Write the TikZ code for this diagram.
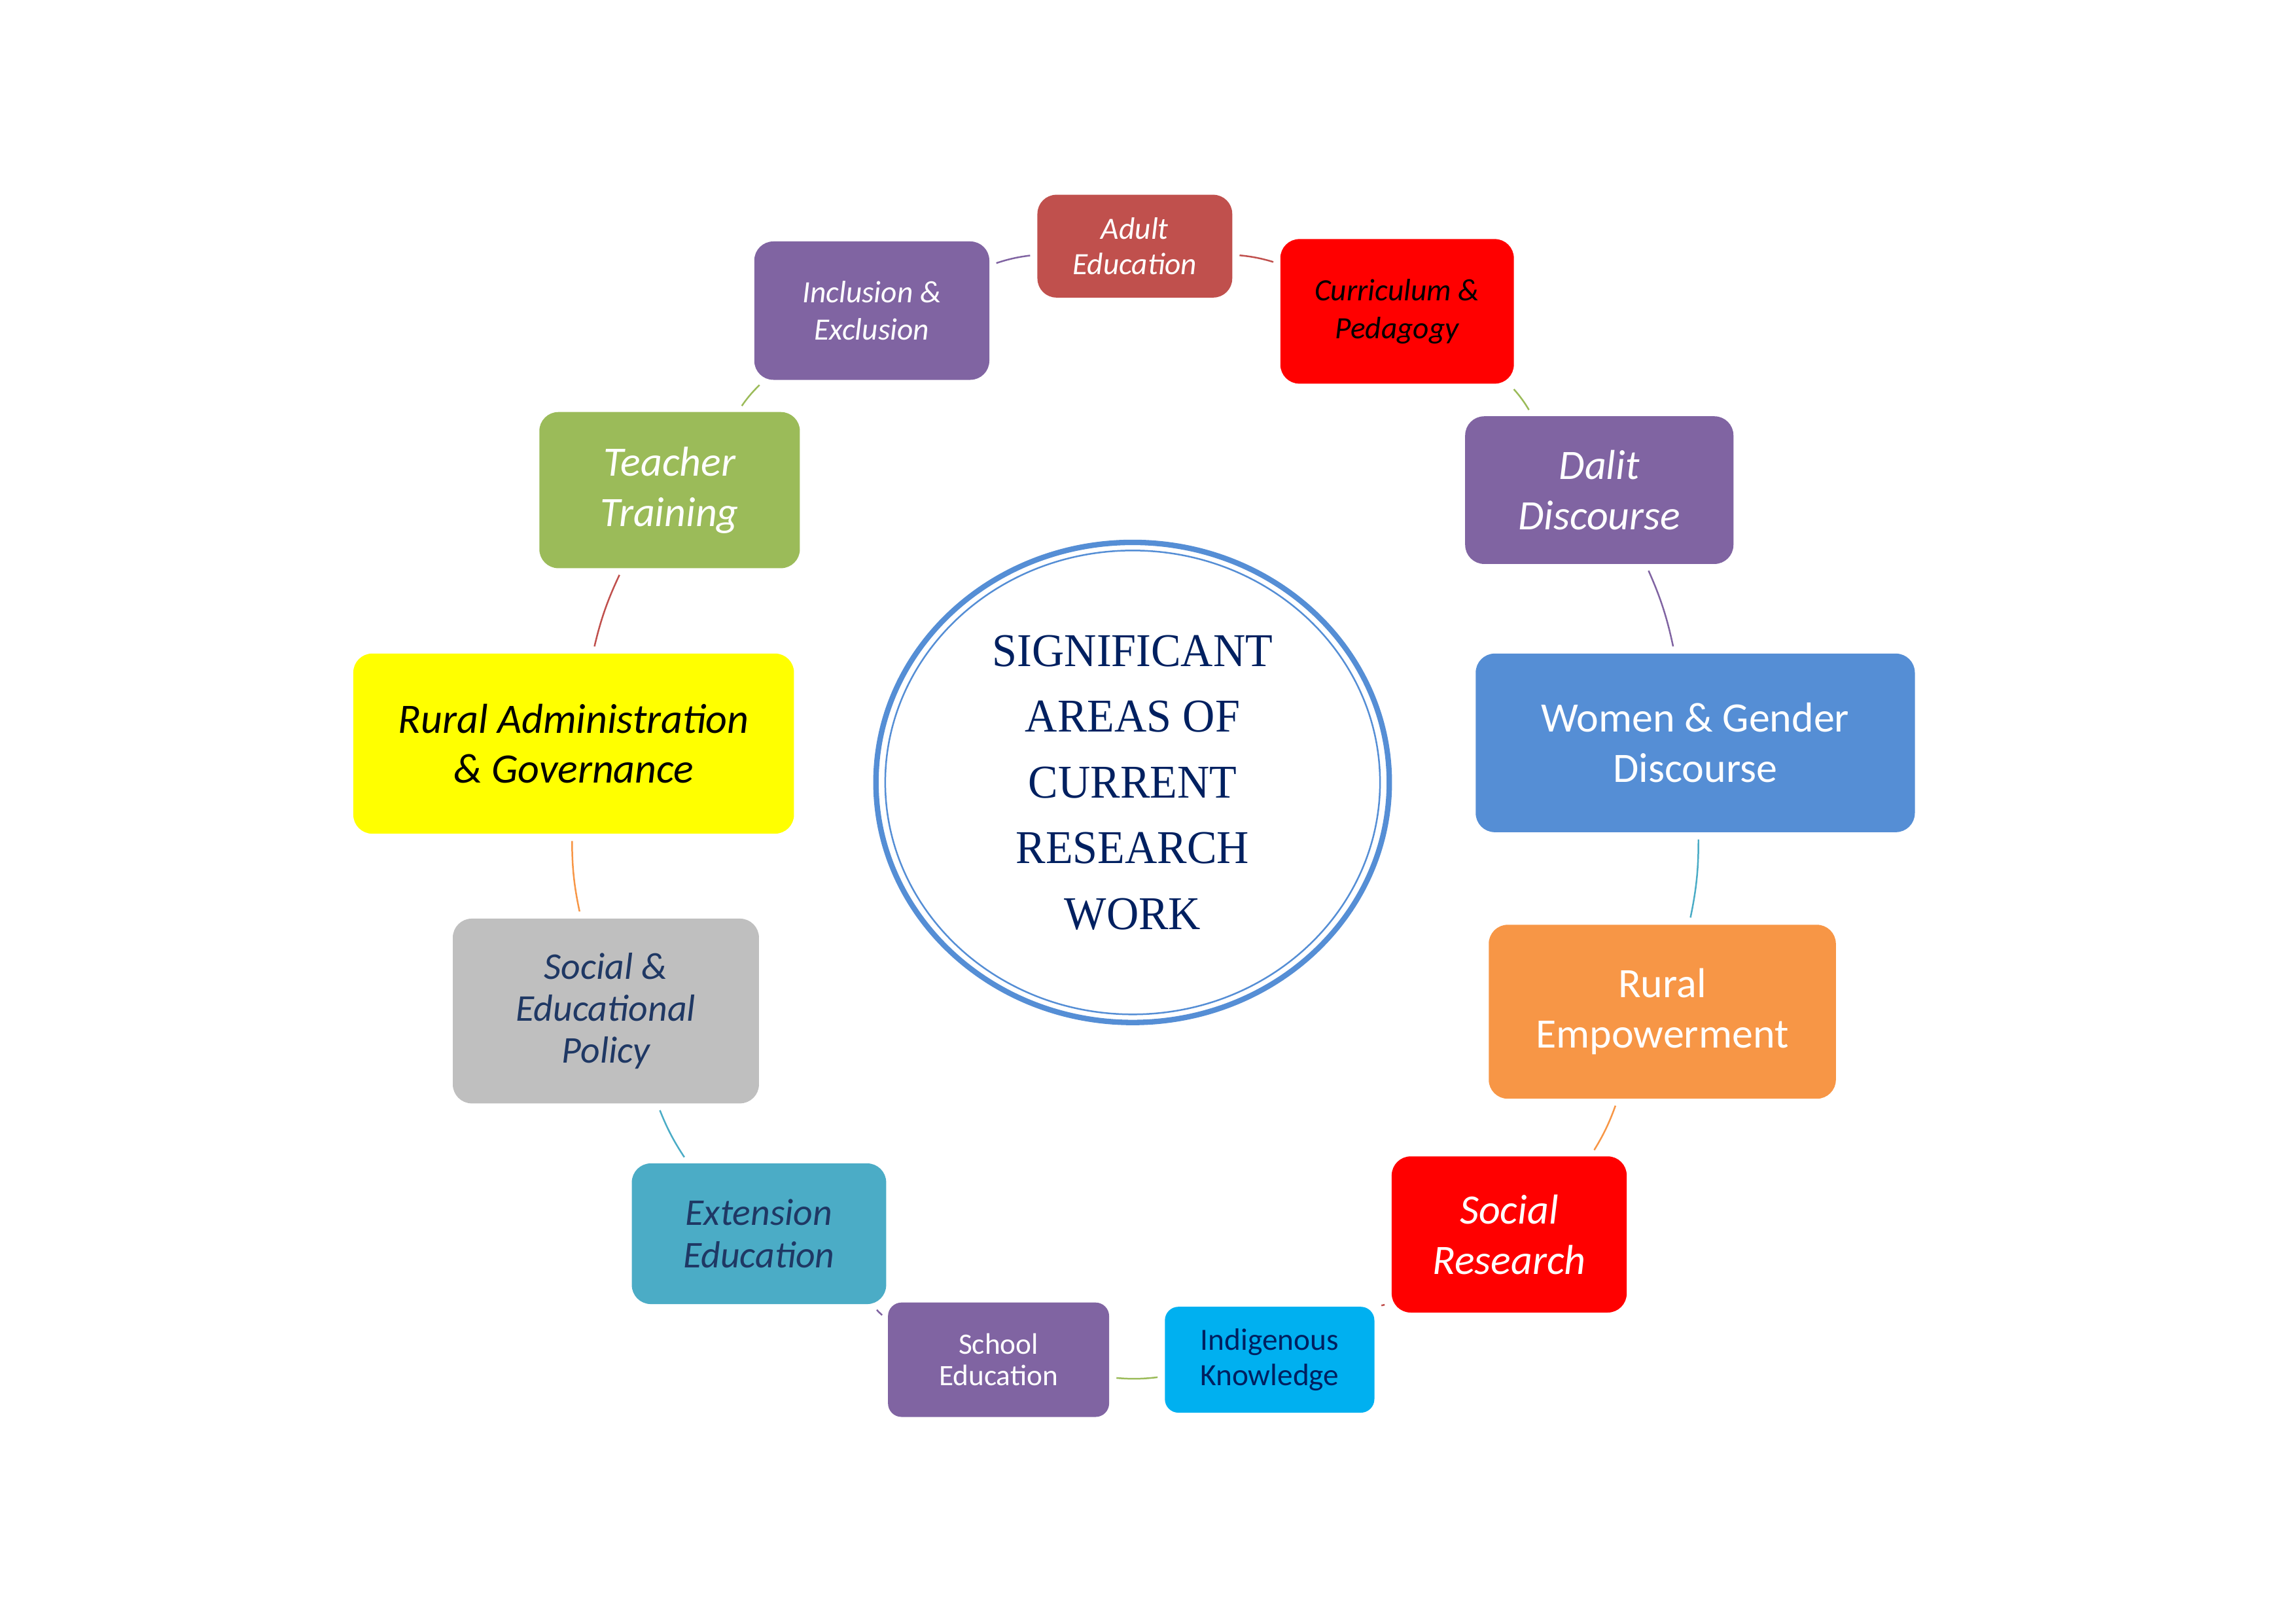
\documentclass[tikz,border=0pt]{standalone}
\usepackage{fontspec}
\setmainfont{Carlito}
\newfontfamily\titlefont[FakeStretch=0.95]{Liberation Serif}
\usetikzlibrary{shapes.geometric}

\definecolor{accred}{HTML}{C0504D}
\definecolor{accgreen}{HTML}{9BBB59}
\definecolor{accpurple}{HTML}{8064A2}
\definecolor{accteal}{HTML}{4BACC6}
\definecolor{accorange}{HTML}{F79646}
\definecolor{accblue}{HTML}{558ED5}
\definecolor{accgray}{HTML}{BFBFBF}
\definecolor{acccyan}{HTML}{00B0F0}
\definecolor{pure red}{HTML}{FF0000}
\definecolor{pure yellow}{HTML}{FFFF00}
\definecolor{navy}{HTML}{1F3864}
\definecolor{deepnavy}{HTML}{002060}

\begin{document}
\begin{tikzpicture}[x=0.018953cm,y=-0.018953cm,
    area/.style={rounded corners=7pt,inner sep=0pt,align=center,text=white},
    link/.style={line width=0.6pt,shorten <=2.5pt,shorten >=2.5pt},
    arc/.style={bend left=6}]
    \useasboundingbox (0,0) rectangle (1567,1108);

    % centre ring
    \node[ellipse,draw=accblue,line width=2pt,minimum width=6.64cm,minimum height=6.21cm,
          inner sep=0pt,align=center,text=deepnavy,
          font=\titlefont\fontsize{17.3}{24.2}\selectfont] (centre) at (773,534)
          {SIGNIFICANT\\AREAS OF\\CURRENT\\RESEARCH\\WORK};
    \draw[accblue,line width=0.6pt] (centre.center) ellipse [x radius=3.20cm,y radius=3.00cm];

    % areas, clockwise from the top
    \node[area,fill=accred,minimum width=2.52cm,minimum height=1.33cm,font=\fontsize{11.4}{13.1}\selectfont\itshape] (adult) at (774.5,168) {Adult\\Education};
    \node[area,fill=pure red,text=black,minimum width=3.02cm,minimum height=1.87cm,font=\fontsize{11.4}{13.9}\selectfont\itshape] (curr) at (953.5,212.5) {Curriculum \&\\Pedagogy};
    \node[area,fill=accpurple,minimum width=3.47cm,minimum height=1.91cm,font=\fontsize{15.4}{18.5}\selectfont\itshape] (dalit) at (1091.5,334.5) {Dalit\\Discourse};
    \node[area,fill=accblue,minimum width=5.68cm,minimum height=2.31cm,font=\fontsize{15.4}{18.5}\selectfont] (women) at (1157,507) {Women \& Gender\\Discourse};
    \node[area,fill=accorange,minimum width=4.49cm,minimum height=2.25cm,font=\fontsize{15.4}{18.5}\selectfont] (ruralemp) at (1134.5,690.5) {Rural\\Empowerment};
    \node[area,fill=pure red,minimum width=3.04cm,minimum height=2.02cm,font=\fontsize{15.4}{18.5}\selectfont\itshape] (socres) at (1030,842.5) {Social\\Research};
    \node[area,fill=acccyan,text=deepnavy,rounded corners=5pt,minimum width=2.71cm,minimum height=1.37cm,font=\fontsize{11.4}{12.9}\selectfont] (indig) at (866.5,928) {Indigenous\\Knowledge};
    \node[area,fill=accpurple,rounded corners=5pt,minimum width=2.86cm,minimum height=1.48cm,font=\fontsize{10.9}{11.5}\selectfont] (school) at (681.5,928) {School\\Education};
    \node[area,fill=accteal,text=navy,minimum width=3.29cm,minimum height=1.82cm,font=\fontsize{13.9}{15.6}\selectfont\itshape] (extension) at (518,842) {Extension\\Education};
    \node[area,fill=accgray,text=navy,minimum width=3.96cm,minimum height=2.39cm,font=\fontsize{13.9}{15.4}\selectfont\itshape] (policy) at (413.5,690) {Social \&\\Educational\\Policy};
    \node[area,fill=pure yellow,text=black,minimum width=5.70cm,minimum height=2.33cm,font=\fontsize{15.4}{18.5}\selectfont\itshape] (ruraladm) at (391.5,507.5) {Rural Administration\\\& Governance};
    \node[area,fill=accgreen,minimum width=3.37cm,minimum height=2.02cm,font=\fontsize{15.4}{18.5}\selectfont\itshape] (teacher) at (457,334.5) {Teacher\\Training};
    \node[area,fill=accpurple,minimum width=3.04cm,minimum height=1.79cm,font=\fontsize{11.4}{13.9}\selectfont\itshape] (incl) at (595,212) {Inclusion \&\\Exclusion};

    % links round the cycle
    \draw[link,accred] (adult.355) to[arc] (curr.158);
    \draw[link,accgreen] (curr.327) to[arc] (dalit.132);
    \draw[link,accpurple] (dalit.302) to[arc] (women.103);
    \draw[link,accteal] (women.272) to[arc] (ruralemp.73);
    \draw[link,accorange] (ruralemp.243) to[arc] (socres.44);
    \draw[link,accred] (socres.210) to[arc] (indig.27);
    \draw[link,accgreen] (indig.189.5) to[arc] (school.351);
    \draw[link,accpurple] (school.160) to[arc] (extension.328);
    \draw[link,accteal] (extension.135) to[arc] (policy.299);
    \draw[link,accorange] (policy.105.5) to[arc] (ruraladm.269);
    \draw[link,accred] (ruraladm.78) to[arc] (teacher.239);
    \draw[link,accgreen] (teacher.49) to[arc] (incl.213);
    \draw[link,accpurple] (incl.21) to[arc] (adult.185);
\end{tikzpicture}
\end{document}
